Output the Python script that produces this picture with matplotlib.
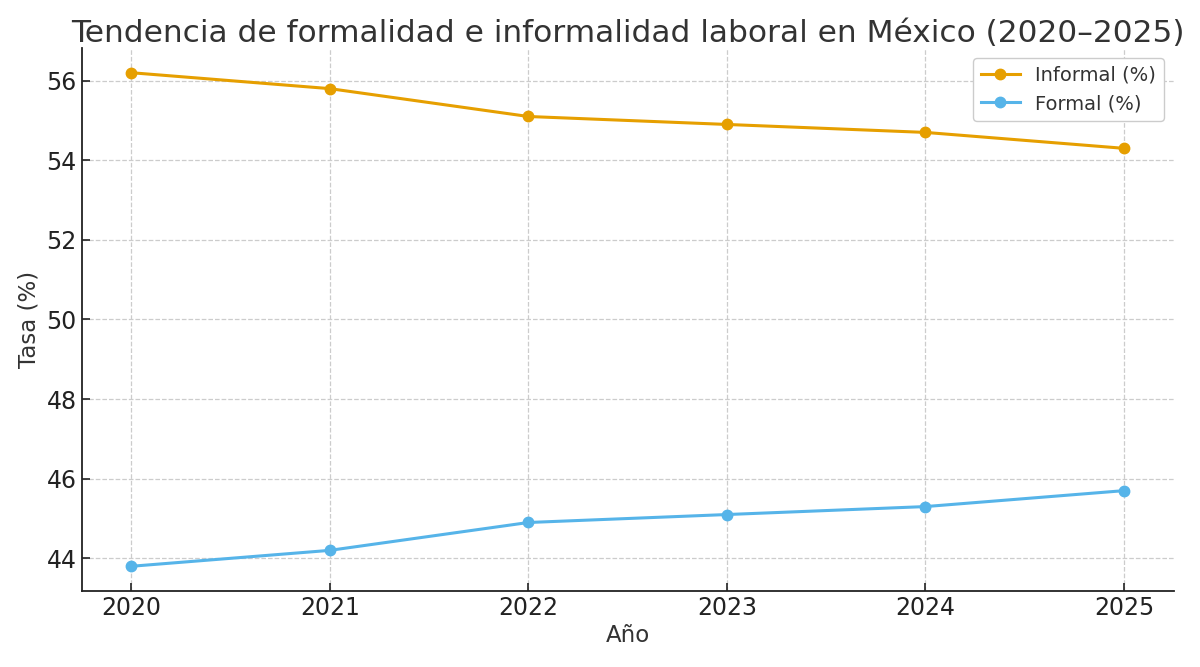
import matplotlib
matplotlib.use("Agg")
import matplotlib.pyplot as plt

years = [2020, 2021, 2022, 2023, 2024, 2025]
informal = [56.2, 55.8, 55.1, 54.9, 54.7, 54.3]
formal = [43.8, 44.2, 44.9, 45.1, 45.3, 45.7]

fig, ax = plt.subplots(figsize=(12, 6.67), dpi=100)
fig.subplots_adjust(left=0.068, right=0.978, top=0.928, bottom=0.114)

ax.plot(years, informal, color="#E69F00", marker="o", linewidth=2.2, markersize=7.5, label="Informal (%)")
ax.plot(years, formal, color="#56B4E9", marker="o", linewidth=2.2, markersize=7.5, label="Formal (%)")

ax.set_title("Tendencia de formalidad e informalidad laboral en México (2020–2025)", fontsize=22.5, color="#333333", pad=4)
ax.set_xlabel("Año", fontsize=16.5, color="#333333", labelpad=3)
ax.set_ylabel("Tasa (%)", fontsize=16.5, color="#333333")
ax.set_xticks(years)
ax.tick_params(direction="in", labelsize=17, length=6, width=1.2, colors="#222222")
ax.grid(True, linestyle="--", color="#cccccc", linewidth=0.9)
for s in ["top", "right"]:
    ax.spines[s].set_visible(False)
for s in ["left", "bottom"]:
    ax.spines[s].set_linewidth(1.3)
    ax.spines[s].set_color("#222222")
leg = ax.legend(fontsize=14, loc="upper right", framealpha=1, edgecolor="#cccccc")
for t in leg.get_texts():
    t.set_color("#333333")

fig.savefig("out.png", dpi=100)
